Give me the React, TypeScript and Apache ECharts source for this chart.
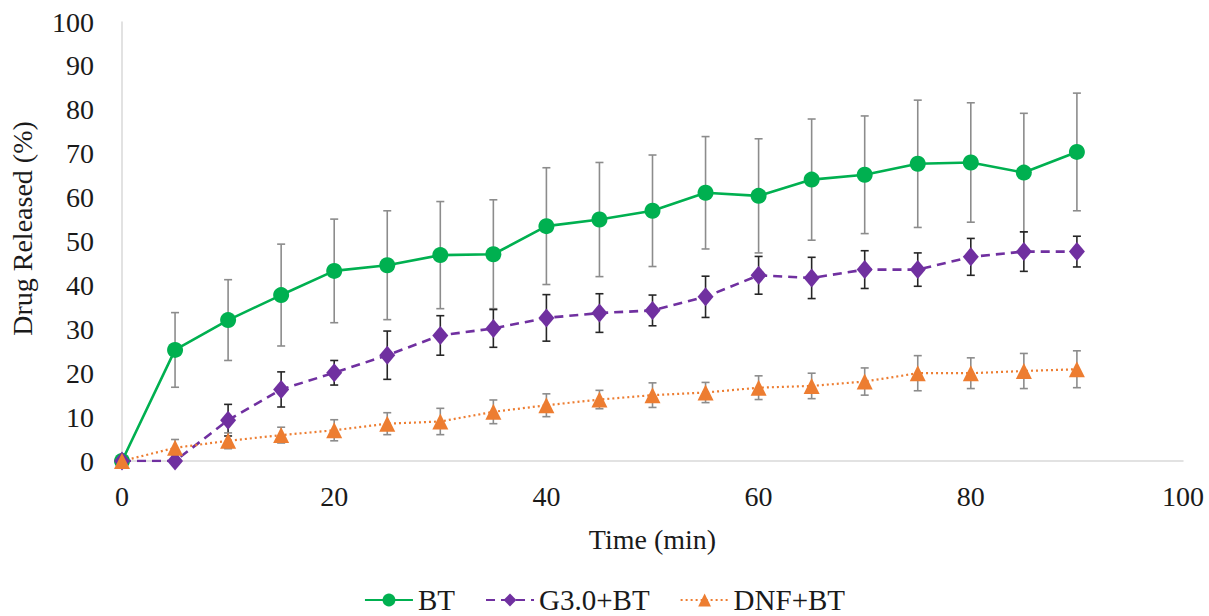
import React, { useEffect, useRef } from "react";
import * as echarts from "echarts";

// Sampling times (min)
const times = [0, 5, 10, 15, 20, 25, 30, 35, 40, 45, 50, 55, 60, 65, 70, 75, 80, 85, 90];

// Cumulative drug release (%) and standard deviations
const btMean = [0, 25.3, 32.1, 37.8, 43.3, 44.6, 46.9, 47.1, 53.5, 55.0, 57.0, 61.1, 60.4, 64.1, 65.2, 67.7, 68.0, 65.7, 70.4];
const btSd = [0, 8.5, 9.2, 11.6, 11.8, 12.4, 12.2, 12.4, 13.3, 13.0, 12.7, 12.8, 13.0, 13.8, 13.4, 14.5, 13.6, 13.5, 13.4];

const g3Mean = [0, 0, 9.3, 16.3, 20.1, 24.1, 28.6, 30.2, 32.6, 33.7, 34.3, 37.4, 42.3, 41.7, 43.6, 43.6, 46.5, 47.7, 47.7];
const g3Sd = [0, 0, 3.6, 4.0, 2.8, 5.5, 4.5, 4.3, 5.3, 4.4, 3.5, 4.7, 4.3, 4.7, 4.3, 3.8, 4.2, 4.5, 3.5];

const dnfMean = [0, 3.0, 4.6, 5.9, 7.0, 8.5, 9.0, 11.2, 12.7, 14.0, 15.0, 15.6, 16.7, 17.1, 18.1, 20.0, 20.0, 20.5, 20.9];
const dnfSd = [0, 1.9, 1.8, 1.8, 2.4, 2.5, 3.0, 2.7, 2.6, 2.1, 2.8, 2.3, 2.7, 2.9, 3.1, 4.0, 3.5, 4.0, 4.2];

const seriesNames = ["BT", "G3.0+BT", "DNF+BT"];
const seriesColors = ["#00b050", "#7030a0", "#ed7d31"];

const FONT = "Liberation Serif, Times New Roman, serif";

const pairs = (mean: number[]) => times.map((t, i) => [t, mean[i]]);
const bars = (mean: number[], sd: number[]) =>
  times.map((t, i) => [t, mean[i] - sd[i], mean[i] + sd[i]]);

function errorBarSeries(mean: number[], sd: number[], color: string) {
  return {
    type: "custom",
    z: 1,
    silent: true,
    data: bars(mean, sd),
    encode: { x: 0, y: [1, 2] },
    renderItem: (_params: any, api: any) => {
      const x = api.value(0);
      const lo = api.value(1);
      const hi = api.value(2);
      if (hi - lo <= 0) return { type: "group", children: [] };
      const top = api.coord([x, hi]);
      const bot = api.coord([x, lo]);
      const cap = 4;
      const style = { stroke: color, lineWidth: 1.6 };
      return {
        type: "group",
        children: [
          { type: "line", shape: { x1: top[0], y1: top[1], x2: bot[0], y2: bot[1] }, style },
          { type: "line", shape: { x1: top[0] - cap, y1: top[1], x2: top[0] + cap, y2: top[1] }, style },
          { type: "line", shape: { x1: bot[0] - cap, y1: bot[1], x2: bot[0] + cap, y2: bot[1] }, style },
        ],
      };
    },
  };
}

export default function App() {
  const ref = useRef<HTMLDivElement>(null);

  useEffect(() => {
    if (!ref.current) return;
    const chart = echarts.init(ref.current, undefined, { renderer: "svg" });
    chart.setOption({
      animation: false,
      backgroundColor: "#ffffff",
      textStyle: { fontFamily: FONT },
      grid: { left: 119, right: 26, top: 22, bottom: 155, containLabel: false },
      legend: {
        data: seriesNames,
        top: 585,
        left: "center",
        padding: 0,
        itemWidth: 48,
        itemHeight: 16,
        itemGap: 30,
        textStyle: { fontFamily: FONT, fontSize: 29, color: "#1a1a1a", lineHeight: 30 },
      },
      xAxis: {
        type: "value",
        min: 0,
        max: 100,
        interval: 20,
        name: "Time (min)",
        nameLocation: "middle",
        nameGap: 64,
        nameTextStyle: { fontFamily: FONT, fontSize: 28, color: "#1a1a1a" },
        axisLine: { show: true, lineStyle: { color: "#d9d9d9", width: 1.5 } },
        axisTick: { show: false },
        splitLine: { show: false },
        axisLabel: { fontFamily: FONT, fontSize: 28, color: "#1a1a1a", margin: 21 },
      },
      yAxis: {
        type: "value",
        min: 0,
        max: 100,
        interval: 10,
        name: "Drug Released (%)",
        nameLocation: "middle",
        nameGap: 86,
        nameTextStyle: { fontFamily: FONT, fontSize: 28, color: "#1a1a1a", padding: [0, 0, 0, 26] },
        axisLine: { show: true, lineStyle: { color: "#d9d9d9", width: 1.5 } },
        axisTick: { show: false },
        splitLine: { show: false },
        axisLabel: { fontFamily: FONT, fontSize: 28, color: "#1a1a1a", margin: 28 },
      },
      series: [
        errorBarSeries(btMean, btSd, "#8c8c8c"),
        errorBarSeries(g3Mean, g3Sd, "#262626"),
        errorBarSeries(dnfMean, dnfSd, "#8c8c8c"),
        {
          name: seriesNames[0],
          type: "line",
          z: 3,
          data: pairs(btMean),
          symbol: "circle",
          symbolSize: 16,
          color: seriesColors[0],
          itemStyle: { color: seriesColors[0] },
          lineStyle: { color: seriesColors[0], width: 2.6, type: "solid" },
        },
        {
          name: seriesNames[1],
          type: "line",
          z: 3,
          data: pairs(g3Mean),
          symbol: "diamond",
          symbolSize: [16, 19],
          color: seriesColors[1],
          itemStyle: { color: seriesColors[1] },
          lineStyle: { color: seriesColors[1], width: 2.6, type: [9, 6] },
        },
        {
          name: seriesNames[2],
          type: "line",
          z: 3,
          data: pairs(dnfMean),
          symbol: "triangle",
          symbolSize: 16,
          color: seriesColors[2],
          itemStyle: { color: seriesColors[2] },
          lineStyle: { color: seriesColors[2], width: 2.2, type: [2, 3] },
        },
      ],
    });
    return () => chart.dispose();
  }, []);

  return <div ref={ref} style={{ width: 1209, height: 616, position: "absolute", left: 0, top: 0 }} />;
}
